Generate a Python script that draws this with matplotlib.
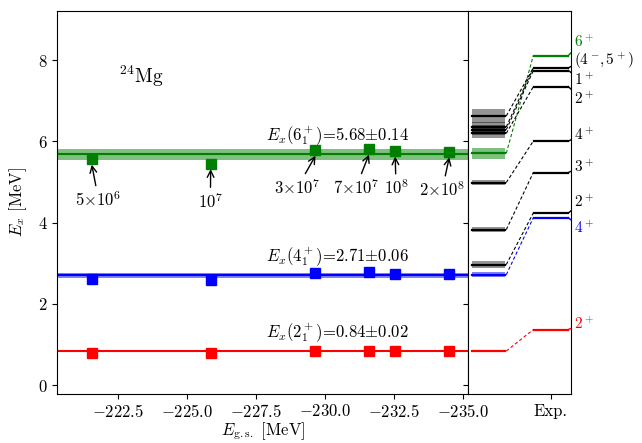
import matplotlib
matplotlib.use("Agg")
import matplotlib.pyplot as plt
import numpy as np

plt.rcParams.update({
    "font.family": "serif",
    "font.serif": ["cmr10"],
    "mathtext.fontset": "cm",
    "axes.formatter.use_mathtext": True,
    "font.size": 12,
    "axes.unicode_minus": True,
})

# ---- data ----
egs = [-221.55, -225.86, -229.66, -231.60, -232.55, -234.51]
labels_time = [r"$5{\times}10^6$", r"$10^7$", r"$3{\times}10^7$", r"$7{\times}10^7$", r"$10^8$", r"$2{\times}10^8$"]
e6 = [5.56, 5.45, 5.78, 5.81, 5.76, 5.74]
e4 = [2.62, 2.60, 2.75, 2.78, 2.74, 2.74]
e2 = [0.80, 0.80, 0.85, 0.84, 0.84, 0.85]
fit_vals = [5.68, 2.71, 0.84]
fit_errs = [0.14, 0.06, 0.02]
fit_names = [r"$E_x(6_1^+)$=5.68$\pm$0.14", r"$E_x(4_1^+)$=2.71$\pm$0.06", r"$E_x(2_1^+)$=0.84$\pm$0.02"]
ann_x = [-221.79, -225.85, -229.01, -231.13, -232.58, -234.26]
ann_y = [4.58, 4.53, 4.87, 4.87, 4.87, 4.82]

# theory levels (right panel) with uncertainty half-widths
th_E = [0.84, 2.72, 2.97, 3.83, 4.99, 5.71, 6.20, 6.29, 6.36, 6.63]
th_err = [0.02, 0.06, 0.08, 0.07, 0.07, 0.14, 0.12, 0.12, 0.12, 0.17]
th_col = ["red", "blue", "k", "k", "k", "green", "k", "k", "k", "k"]
# experimental partner for each theory level
th_exp = [1.369, 4.123, 4.238, 5.235, 6.010, 8.114, 7.349, 7.747, 7.812, 7.812]

exp_E = [1.369, 4.123, 4.238, 5.235, 6.010, 7.349, 7.747, 7.812, 8.114]
exp_lab = [r"$2^+$", r"$4^+$", r"$2^+$", r"$3^+$", r"$4^+$", r"$2^+$", r"$1^+$", r"$(4^-\!,5^+)$", r"$6^+$"]
exp_lab_y = [1.51, 3.87, 4.50, 5.38, 6.16, 7.06, 7.52, 7.98, 8.45]
exp_col = ["red", "blue", "k", "k", "k", "k", "k", "k", "green"]

series = [(e6, "green"), (e4, "blue"), (e2, "red")]

W, H = 642, 443
fig = plt.figure(figsize=(W / 100, H / 100), dpi=100)
axL = fig.add_axes([57.3 / W, 1 - 393.7 / H, 411 / W, 383 / H])
axR = fig.add_axes([468.3 / W, 1 - 393.7 / H, 102.4 / W, 383 / H])

ylim = (-0.21, 9.22)
xlim = (-220.3, -235.2)

# left panel
for (vals, col), fv, fe, name in zip(series, fit_vals, fit_errs, fit_names):
    axL.fill_between(xlim, fv - fe, fv + fe, color=col, alpha=0.5, lw=0)
    axL.axhline(fv, color=col, lw=1.5)
    axL.plot(egs, vals, "s", color=col, ms=7.5, zorder=5)
    axL.text(-230.45, fv + 0.15, name, ha="center", va="bottom", fontsize=12)

for x, y, tx, ty, lab in zip(egs, e6, ann_x, ann_y, labels_time):
    axL.annotate(lab, xy=(x, y - 0.13), xytext=(tx, ty), ha="center", va="center",
                 fontsize=12,
                 arrowprops=dict(arrowstyle="->", color="k", lw=1.0, shrinkA=1, shrinkB=0,
                                 mutation_scale=12))

axL.text(-223.36, 7.6, r"$^{24}$Mg", ha="center", va="center", fontsize=14)
axL.set_xlim(xlim)
axL.set_ylim(ylim)
axL.set_xticks([-222.5, -225.0, -227.5, -230.0, -232.5, -235.0])
axL.set_yticks([0, 2, 4, 6, 8])
axL.set_xlabel(r"$E_{\rm g.s.}$ [MeV]", labelpad=0)
axL.set_ylabel(r"$E_x$ [MeV]", labelpad=6)
axL.tick_params(direction="out", right=False, top=False)

# right panel
x0, x1 = 0.039, 0.361
x2, x3 = 0.645, 0.977
for E, err, col, Ee in zip(th_E, th_err, th_col, th_exp):
    axR.fill_between([x0, x1], E - err, E + err, color=col, alpha=0.5 if col != "k" else 0.42, lw=0)
    axR.plot([x0, x1], [E, E], color=col, lw=1.6)
    axR.plot([x1 + 0.01, x2 - 0.01], [E, Ee], color=col, lw=0.8, ls=(0, (3, 2)))

for E, lab, ly, col in zip(exp_E, exp_lab, exp_lab_y, exp_col):
    axR.plot([x2, x3], [E, E], color=col, lw=1.6)
    axR.plot([x3, 1.1], [E, ly], color=col, lw=1.0, clip_on=True)
    axR.text(1.03, ly, lab, color=col, ha="left", va="center", fontsize=11,
             transform=axR.transData, clip_on=False)

axR.set_xlim(0, 1)
axR.set_ylim(ylim)
axR.set_xticks([0.805])
axR.set_xticklabels(["Exp."])
axR.set_yticks([0, 2, 4, 6, 8])
axR.set_yticklabels([])
axR.tick_params(direction="out")

fig.savefig("out.png", dpi=100)
